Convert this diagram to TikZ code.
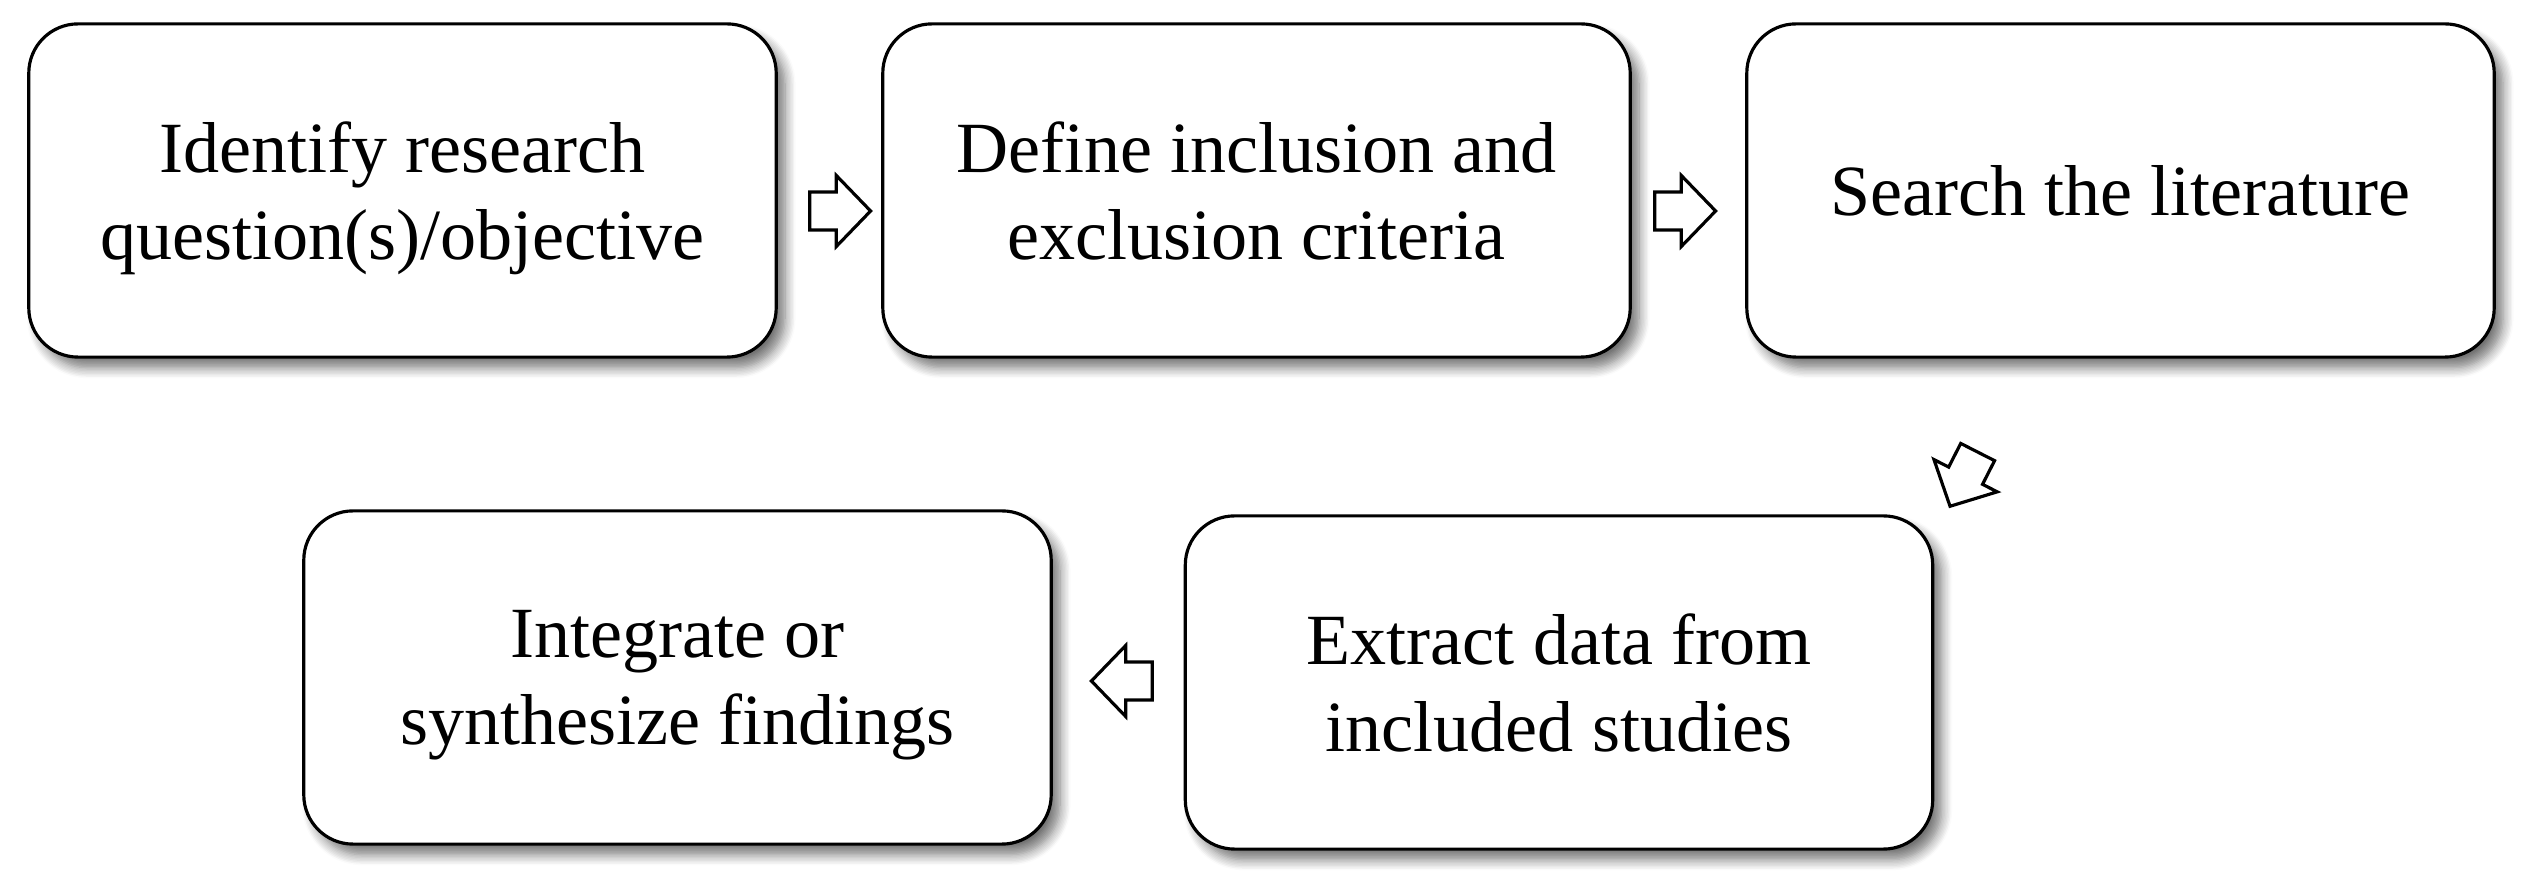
\documentclass[tikz,border=0pt]{standalone}
\usepackage{fontspec}
\setmainfont{Liberation Serif}
\usetikzlibrary{shapes.arrows,shadows.blur,calc}
\begin{document}
\begin{tikzpicture}[x=0.01cm,y=-0.01cm,
  box/.style={draw, line width=0.9pt, rounded corners=14pt, fill=white,
    minimum width=7.47cm, minimum height=3.33cm, align=center, text depth=0pt,
    font=\fontsize{20.5}{24.7}\selectfont,
    blur shadow={shadow xshift=2.5pt, shadow yshift=-3pt, shadow blur steps=8,
      shadow blur radius=3pt, shadow opacity=55}},
  barrow/.style={draw, line width=0.9pt, shape=single arrow, fill=white,
    minimum height=17.3pt, inner xsep=0pt, inner ysep=4.95pt,
    single arrow head extend=4.7pt, single arrow head indent=0pt,
    single arrow tip angle=92}]
\useasboundingbox (0,0) rectangle (2536,892);
\node[box] (b1) at (402.5,190.5) {Identify research\\question(s)/objective};
\node[box] (b2) at (1256.5,190.5) {Define inclusion and\\exclusion criteria};
\node[box] (b3) at (2120.5,190.5) {Search the literature};
\node[box] (b4) at (677.5,677.5) {Integrate or\\synthesize findings};
\node[box] (b5) at (1559,682.5) {Extract data from\\included studies};
\node[barrow] (a12) at (831,211) {};
\node[barrow] (a23) at (1676,211) {};
\node[barrow, rotate=243] (a35) at (1968,471) {};
\node[barrow, rotate=180] (a54) at (1131,681) {};
\end{tikzpicture}
\end{document}
